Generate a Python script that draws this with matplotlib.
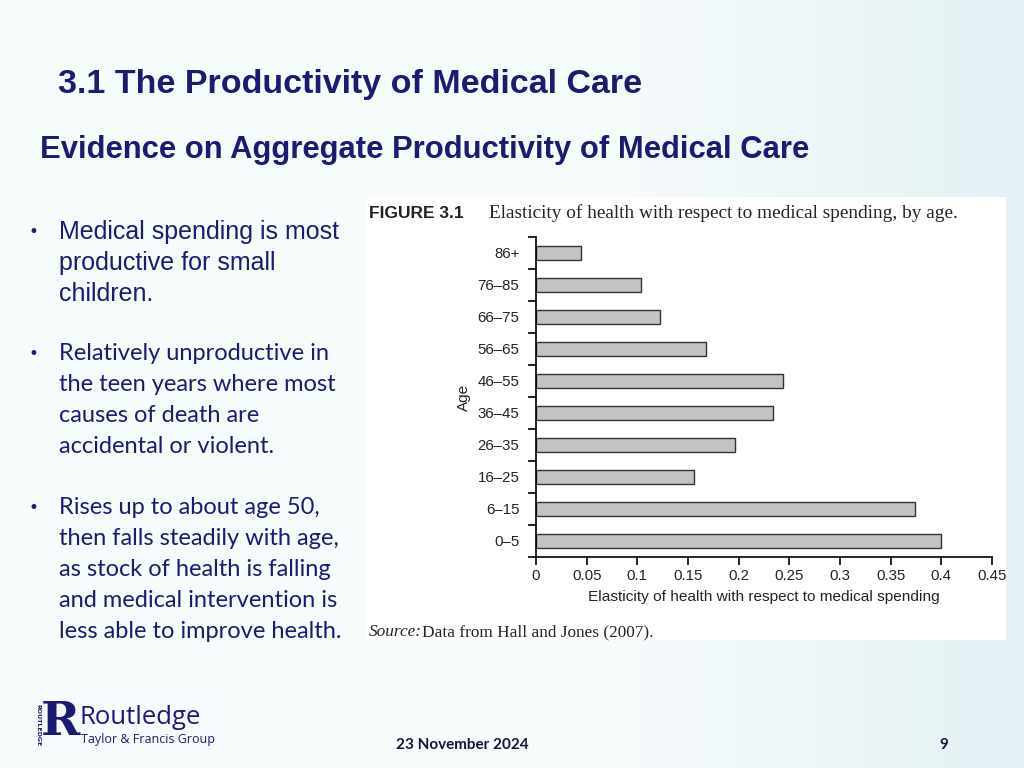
import numpy as np
import matplotlib.pyplot as plt
from matplotlib.patches import Rectangle

# Données
age_groups = ['0–5', '6–15', '16–25', '26–35', '36–45', '46–55', '56–65', '66–75', '76–85', '86+']
elasticity = [0.400, 0.374, 0.156, 0.196, 0.234, 0.244, 0.168, 0.122, 0.104, 0.044]
x_ticks = [0, 0.05, 0.1, 0.15, 0.2, 0.25, 0.3, 0.35, 0.4, 0.45]
x_tick_labels = ['0', '0.05', '0.1', '0.15', '0.2', '0.25', '0.3', '0.35', '0.4', '0.45']

bullets = [
    ["Medical spending is most", "productive for small", "children."],
    ["Relatively unproductive in", "the teen years where most", "causes of death are", "accidental or violent."],
    ["Rises up to about age 50,", "then falls steadily with age,", "as stock of health is falling",
     "and medical intervention is", "less able to improve health."],
]

W, H = 1024, 768
navy = '#1b1b72'


def fx(px):
    return px / W


def fy(py):
    return 1 - py / H


fig = plt.figure(figsize=(W / 100, H / 100), dpi=100)

# fond de la diapositive
bg = fig.add_axes([0, 0, 1, 1], zorder=-10)
xx = np.linspace(0, 1, 300)
grad = np.tile(np.clip((xx - 0.6) / 0.4, 0, 1), (200, 1))
bg.imshow(grad, cmap=plt.matplotlib.colors.LinearSegmentedColormap.from_list('bg', ['#f6fbfc', '#e4f1f4']),
          aspect='auto', extent=[0, 1, 0, 1], vmin=0, vmax=1)
bg.set_xlim(0, 1)
bg.set_ylim(0, 1)
bg.axis('off')

# titres
fig.text(fx(58), fy(84), "3.1 The Productivity of Medical Care", fontsize=24.5, fontweight='bold',
         family='Liberation Sans', color=navy, va='center')
fig.text(fx(40), fy(150), "Evidence on Aggregate Productivity of Medical Care", fontsize=22.3, fontweight='bold',
         family='Liberation Sans', color=navy, va='center')

# puces
starts = [232, 354, 508]
for i, lines in enumerate(bullets):
    fam = 'Liberation Sans' if i == 0 else 'Lato'
    size = 18 if i == 0 else 17
    fig.text(fx(33), fy(starts[i]), "•", fontsize=12, color=navy, va='center', ha='center')
    for j, line in enumerate(lines):
        fig.text(fx(59), fy(starts[i] + j * 30.8), line, fontsize=size, family=fam, color=navy, va='center')

# panneau blanc de la figure
fig.patches.append(Rectangle((fx(367), fy(640)), fx(1006) - fx(367), fy(197) - fy(640),
                             transform=fig.transFigure, facecolor='white', edgecolor='none', zorder=-5))
fig.text(fx(369), fy(213), "FIGURE 3.1", fontsize=12.5, fontweight='bold',
         family='Liberation Sans', color='#222222', va='center')
fig.text(fx(489), fy(213), "Elasticity of health with respect to medical spending, by age.",
         fontsize=13.9, family='Liberation Serif', color='#222222', va='center')
fig.text(fx(369), fy(632), "Source:", fontsize=12.4, family='Liberation Serif', style='italic',
         color='#222222', va='center')
fig.text(fx(422), fy(632), "Data from Hall and Jones (2007).", fontsize=12.4, family='Liberation Serif',
         color='#222222', va='center')

# graphique
ax = fig.add_axes([fx(536), fy(557), fx(992) - fx(536), fy(237) - fy(557)])
ax.set_facecolor('none')
pos = np.arange(len(age_groups))
ax.barh(pos, elasticity, height=0.42, color='#c3c3c3', edgecolor='#333333', linewidth=1.0)
ax.set_xlim(0, 0.45)
ax.set_ylim(-0.5, len(age_groups) - 0.5)
ax.set_xticks(x_ticks)
ax.set_xticklabels(x_tick_labels)
ax.set_yticks(pos)
ax.set_yticklabels(age_groups)
ax.set_yticks(np.arange(len(age_groups) + 1) - 0.5, minor=True)
ax.tick_params(axis='y', which='major', length=0, pad=12)
ax.tick_params(axis='y', which='minor', length=6, width=1.2, direction='out')
ax.tick_params(axis='x', length=6, width=1.2, direction='out', pad=3)
for lab in ax.get_xticklabels() + ax.get_yticklabels():
    lab.set_fontsize(10.8)
    lab.set_family('Liberation Sans')
    lab.set_color('#222222')
for s in ['top', 'right']:
    ax.spines[s].set_visible(False)
for s in ['left', 'bottom']:
    ax.spines[s].set_linewidth(1.2)
ax.set_xlabel("Elasticity of health with respect to medical spending", fontsize=11.1,
              family='Liberation Sans', color='#222222', labelpad=5)
fig.text(fx(464), fy(397), "Age", fontsize=11, family='Liberation Sans', color='#222222',
         rotation=90, va='center', ha='center')

# logo et pied de page
fig.patches.append(Rectangle((fx(30), fy(752)), fx(216) - fx(30), fy(697) - fy(752),
                             transform=fig.transFigure, facecolor='#f8fbfd', edgecolor='none', zorder=-5))
fig.text(fx(38), fy(725), "ROUTLEDGE", fontsize=4.5, fontweight='bold', rotation=-90, color=navy,
         va='center', ha='center')
fig.text(fx(60), fy(722), "R", fontsize=34, fontweight='bold', family='DejaVu Serif', color=navy,
         va='center', ha='center')
fig.text(fx(80), fy(717), "Routledge", fontsize=18.5, family='Open Sans', color=navy, va='center')
fig.text(fx(81), fy(740), "Taylor & Francis Group", fontsize=9, family='Open Sans', color=navy, va='center')

fig.text(fx(462), fy(745), "23 November 2024", fontsize=11, fontweight='bold', family='Lato',
         color='#15153a', va='center', ha='center')
fig.text(fx(944), fy(745), "9", fontsize=11, fontweight='bold', family='Lato',
         color='#15153a', va='center', ha='center')

fig.savefig('out.png', dpi=100)
